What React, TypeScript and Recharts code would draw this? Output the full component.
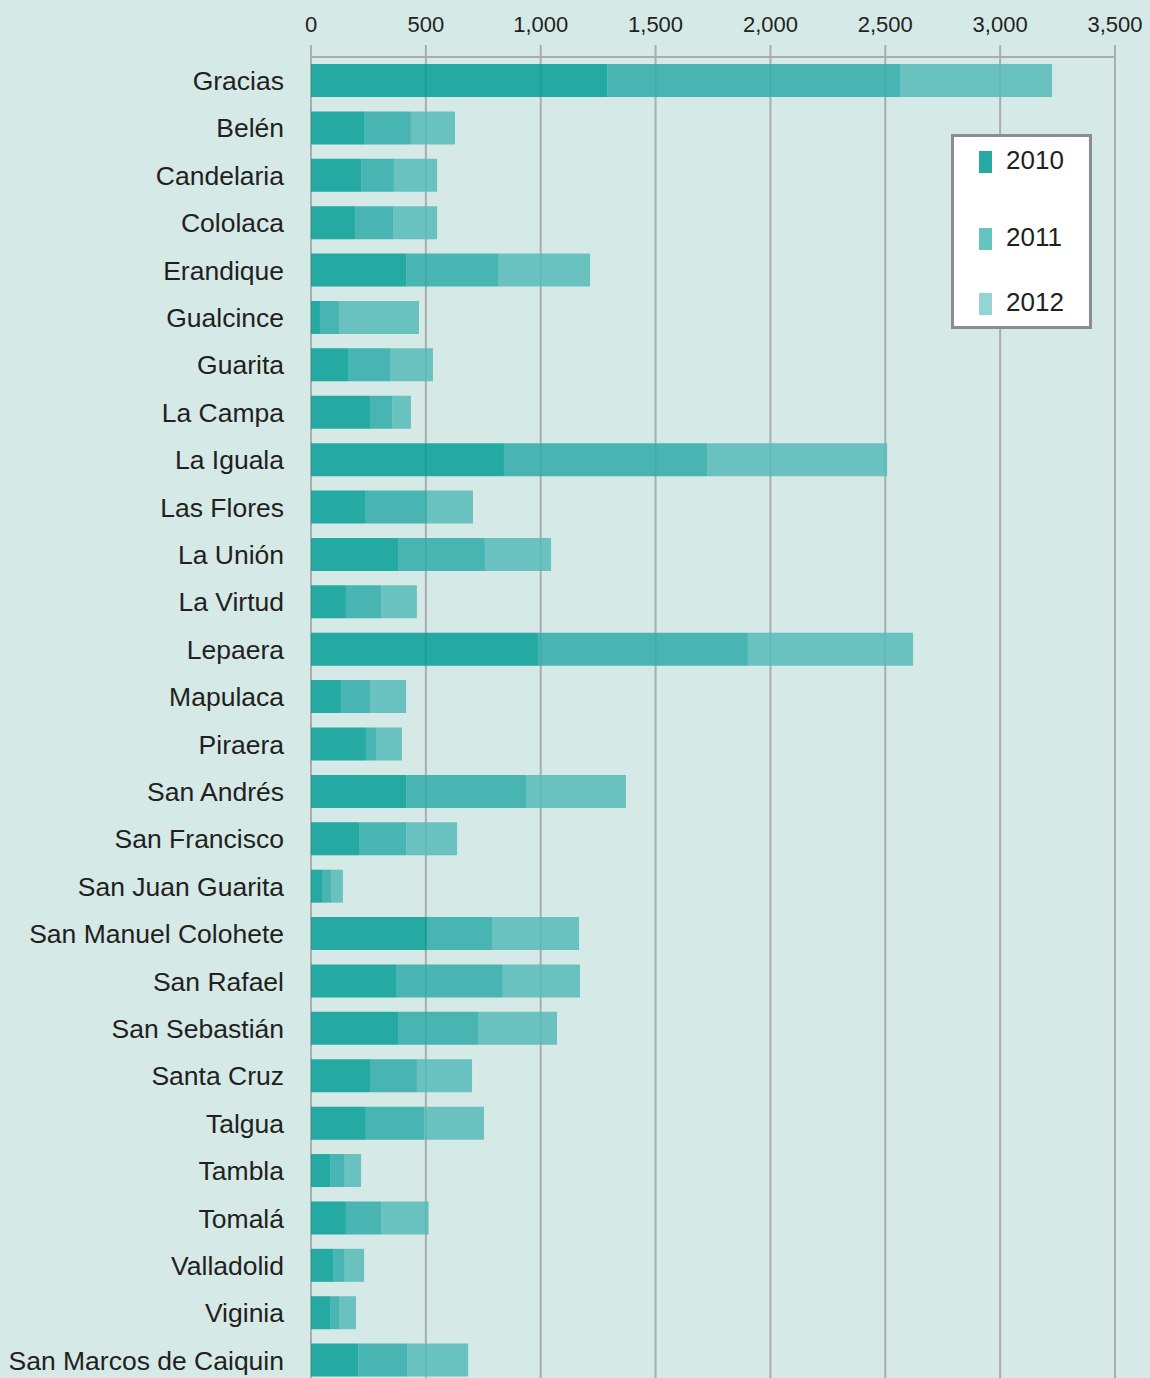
import { BarChart, Bar, XAxis, YAxis, CartesianGrid, Legend } from "recharts";

const MUNICIPIOS = [
  "Gracias", "Belén", "Candelaria", "Cololaca", "Erandique", "Gualcince", "Guarita",
  "La Campa", "La Iguala", "Las Flores", "La Unión", "La Virtud", "Lepaera", "Mapulaca",
  "Piraera", "San Andrés", "San Francisco", "San Juan Guarita", "San Manuel Colohete",
  "San Rafael", "San Sebastián", "Santa Cruz", "Talgua", "Tambla", "Tomalá", "Valladolid",
  "Viginia", "San Marcos de Caiquin",
];

const Y2010 = [1289, 231, 218, 192, 414, 39, 161, 257, 840, 235, 379, 152, 988, 131, 239, 414, 209, 48, 505, 370, 379, 257, 239, 83, 152, 96, 83, 205];
const Y2011 = [1275, 204, 143, 165, 400, 83, 186, 96, 884, 270, 378, 153, 914, 126, 44, 522, 205, 42, 286, 465, 348, 204, 253, 64, 153, 51, 42, 213];
const Y2012 = [662, 192, 188, 192, 401, 348, 184, 82, 784, 200, 288, 156, 719, 157, 113, 435, 222, 49, 376, 336, 344, 240, 261, 71, 207, 84, 71, 266];

const X_TICKS = [0, 500, 1000, 1500, 2000, 2500, 3000, 3500];

// colores de barra con opacidad para que la rejilla se vea detrás
const BAR_COLORS = ["#059e96", "#2faca9", "#57bbb8"];
const LEGEND_COLORS = ["#24aaa3", "#66c3bf", "#94d4d2"];
const SERIES = ["2010", "2011", "2012"];

const data = MUNICIPIOS.map((name, i) => ({
  name,
  "2010": Y2010[i],
  "2011": Y2011[i],
  "2012": Y2012[i],
}));

const SWATCH_TOPS = [17, 94, 159];

function LegendBox({ payload }: any) {
  const items = payload && payload.length ? payload : SERIES.map((s) => ({ value: s }));
  return (
    <div
      style={{
        position: "relative",
        width: 141,
        height: 195,
        boxSizing: "border-box",
        border: "3px solid #8b8d90",
        background: "#ffffff",
      }}
    >
      {items.map((it: any, i: number) => (
        <div key={it.value} style={{ position: "absolute", left: 25, top: SWATCH_TOPS[i] - 3, height: 22, display: "flex", alignItems: "center" }}>
          <span style={{ display: "inline-block", width: 13, height: 22, background: LEGEND_COLORS[i] }} />
          <span style={{ position: "relative", top: -2, marginLeft: 14, fontFamily: "'Liberation Sans', Arial, sans-serif", fontSize: 26, color: "#231f20", lineHeight: "22px" }}>
            {it.value}
          </span>
        </div>
      ))}
    </div>
  );
}

export default function App() {
  return (
    <div style={{ position: "absolute", left: 0, top: 0, width: 1150, height: 1378, overflow: "hidden", background: "#d5e9e7" }}>
      <BarChart
        width={1150}
        height={1400}
        data={data}
        layout="vertical"
        margin={{ top: 0, right: 35, bottom: 16, left: 0 }}
        barSize={33}
      >
        <CartesianGrid horizontal={false} vertical={true} stroke="#a9adae" strokeWidth={2} />
        <XAxis
          type="number"
          orientation="top"
          domain={[0, 3500]}
          ticks={X_TICKS}
          height={57}
          interval={0}
          tickFormatter={(v: number) => v.toLocaleString("en-US")}
          tick={{ fontSize: 22, fill: "#231f20", fontFamily: "'Liberation Sans Narrow', 'Liberation Sans', Arial, sans-serif" }}
          tickSize={12}
          tickMargin={13}
          tickLine={{ stroke: "#a9adae", strokeWidth: 2 }}
          axisLine={{ stroke: "#a9adae", strokeWidth: 2 }}
        />
        <YAxis
          type="category"
          dataKey="name"
          width={311}
          interval={0}
          tickLine={false}
          axisLine={false}
          tickSize={25}
          tickMargin={2}
          tick={{ fontSize: 26.5, fill: "#231f20", fontFamily: "'Liberation Sans', Arial, sans-serif" }}
        />
        <Legend
          layout="horizontal"
          verticalAlign="middle"
          align="center"
          wrapperStyle={{ top: 134, left: 951, width: 141 }}
          content={<LegendBox />}
        />
        {SERIES.map((s, i) => (
          <Bar key={s} dataKey={s} stackId="a" fill={BAR_COLORS[i]} fillOpacity={0.85} isAnimationActive={false} />
        ))}
      </BarChart>
    </div>
  );
}
